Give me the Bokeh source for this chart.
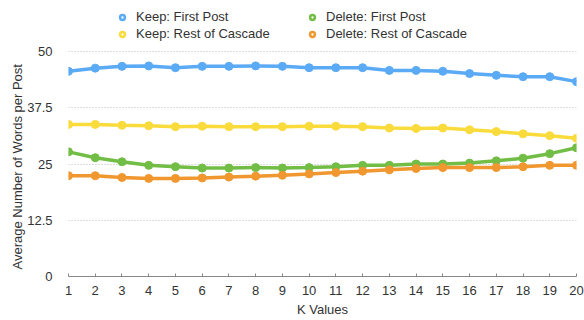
from bokeh.plotting import figure
from bokeh.models import Legend, LegendItem, Range1d, FixedTicker, ColumnDataSource, Title
from bokeh.embed import file_html
from bokeh.resources import INLINE

k_values = list(range(1, 21))
keep_first = [45.6, 46.3, 46.7, 46.8, 46.4, 46.7, 46.7, 46.8, 46.7, 46.4,
              46.4, 46.4, 45.8, 45.8, 45.6, 45.1, 44.7, 44.4, 44.4, 43.3]
keep_rest = [33.8, 33.8, 33.6, 33.5, 33.3, 33.4, 33.3, 33.3, 33.3, 33.4,
             33.4, 33.3, 33.0, 32.9, 33.0, 32.6, 32.2, 31.7, 31.3, 30.7]
delete_first = [27.7, 26.4, 25.5, 24.7, 24.4, 24.1, 24.1, 24.2, 24.1, 24.2,
                24.4, 24.7, 24.7, 25.0, 25.0, 25.2, 25.7, 26.3, 27.3, 28.6]
delete_rest = [22.4, 22.4, 22.0, 21.8, 21.8, 21.9, 22.1, 22.3, 22.5, 22.8,
               23.1, 23.4, 23.7, 24.0, 24.2, 24.2, 24.2, 24.4, 24.7, 24.7]
y_ticks = [0, 12.5, 25, 37.5, 50]
series_names = ["Keep: First Post", "Keep: Rest of Cascade",
                "Delete: First Post", "Delete: Rest of Cascade"]
colors = ["#5AAAF5", "#F9DB3C", "#72BD45", "#F0972F"]

FONT = "Liberation Sans"

# frame spans from y=2 to y=276 px; value 50 sits at y=51 px (4.5 px per unit)
y_top = 50 + (51 - 2) / 4.5

p = figure(width=584, height=320, output_backend="svg", toolbar_location=None,
           x_range=Range1d(1, 20), y_range=Range1d(0, y_top),
           min_border_left=68, min_border_right=8, min_border_top=2, min_border_bottom=44)
p.outline_line_color = None
p.background_fill_color = "white"
p.border_fill_color = "white"

data = [keep_first, keep_rest, delete_first, delete_rest]
legend_renderers = []
for vals, c in zip(data, colors):
    src = ColumnDataSource(dict(x=k_values, y=vals))
    p.line("x", "y", source=src, line_color=c, line_width=3.5)
    p.scatter("x", "y", source=src, size=8, fill_color=c, line_color=c)
    # legend-only glyph (hollow ring), no visible data point
    r = p.scatter(x=[float("nan")], y=[float("nan")], size=8, fill_color="white",
                  line_color=c, line_width=2.5)
    legend_renderers.append(r)

# axes
p.xaxis.ticker = FixedTicker(ticks=k_values)
p.yaxis.ticker = FixedTicker(ticks=y_ticks)
p.yaxis.axis_line_color = None
p.yaxis.major_tick_line_color = None
p.yaxis.minor_tick_line_color = None
p.xaxis.axis_line_color = "#888888"
p.xaxis.major_tick_line_color = "#888888"
p.xaxis.major_tick_in = 3
p.xaxis.major_tick_out = 0
p.xaxis.minor_tick_line_color = None
for ax in (p.xaxis[0], p.yaxis[0]):
    ax.major_label_text_font = FONT
    ax.major_label_text_font_size = "13px"
    ax.major_label_text_color = "#333333"
    ax.axis_label_text_font = FONT
    ax.axis_label_text_font_size = "13px"
    ax.axis_label_text_font_style = "normal"
    ax.axis_label_text_color = "#333333"
p.xaxis.axis_label = "K Values"
p.xaxis.major_label_standoff = 9
p.yaxis.major_label_standoff = 10
p.xaxis.axis_label_standoff = 4

ylab = Title(text="Average Number of Words per Post", align="left", offset=7,
             text_font=FONT, text_font_size="13px", text_font_style="normal",
             text_color="#333333", standoff=0)
p.add_layout(ylab, "left")

p.xgrid.grid_line_color = None
p.ygrid.grid_line_color = "#BBBBBB"
p.ygrid.grid_line_dash = "1 2"
p.ygrid.grid_line_width = 1

order = [0, 2, 1, 3]
items = [LegendItem(label=series_names[i], renderers=[legend_renderers[i]]) for i in order]
legend = Legend(items=items, location=(48, 235), orientation="horizontal", ncols=2,
                label_text_font=FONT, label_text_font_size="13px", label_text_color="#333333",
                glyph_width=12, glyph_height=12, label_standoff=8, spacing=2,
                padding=0, margin=0, border_line_color=None, background_fill_alpha=0,
                label_height=13, label_width=168)
p.add_layout(legend, "center")

open("out.html", "w").write(file_html(p, INLINE))
